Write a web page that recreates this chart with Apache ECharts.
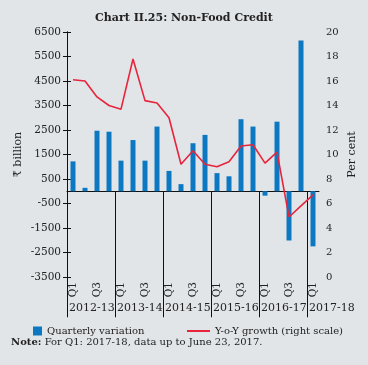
<!DOCTYPE html>
<html><head><meta charset="utf-8">
<script src="https://cdn.jsdelivr.net/npm/echarts@6/dist/echarts.min.js"></script>
<style>html,body{margin:0;padding:0;background:#E2E5E8;}#c{width:368px;height:365px;}</style>
</head><body><div id="c"></div>
<script>
// ---- data ----
const quarters = ['Q1','Q2','Q3','Q4','Q1','Q2','Q3','Q4','Q1','Q2','Q3','Q4','Q1','Q2','Q3','Q4','Q1','Q2','Q3','Q4','Q1'];
const years = ['2012-13','2013-14','2014-15','2015-16','2016-17','2017-18'];
const yearStarts = [0, 4, 8, 12, 16, 20];
const quarterlyVariation = [1220, 140, 2470, 2430, 1250, 2090, 1250, 2640, 830, 290, 1960, 2300, 740, 610, 2940, 2640, -180, 2840, -2010, 6150, -2250];
const yoyGrowth = [16.1, 16.0, 14.7, 14.0, 13.7, 17.8, 14.4, 14.2, 13.0, 9.2, 10.3, 9.2, 9.0, 9.4, 10.7, 10.8, 9.3, 10.2, 4.9, 5.8, 6.7];
const leftTicks = [-3500, -2500, -1500, -500, 500, 1500, 2500, 3500, 4500, 5500, 6500];
const rightTicks = [0, 2, 4, 6, 8, 10, 12, 14, 16, 18, 20];

const FONT = "'DejaVu Serif', serif";
const TXT = '#222';
const AX = '#111';
const yearLabel = function (v) {
  const i = yearStarts.indexOf(Math.round(Number(v)));
  return i >= 0 ? years[i] : '';
};
const chart = echarts.init(document.getElementById('c'), null, {renderer: 'canvas'});
chart.setOption({
  backgroundColor: '#E2E5E8',
  animation: false,
  textStyle: {fontFamily: FONT, color: TXT},
  title: [
    {text: 'Chart II.25: Non-Food Credit', left: 'center', top: 8,
     textStyle: {fontFamily: FONT, fontSize: 11, fontWeight: 'bold', color: TXT}},
    {text: '{b|Note:} For Q1: 2017-18, data up to June 23, 2017.', left: 11, top: 337, padding: 0,
     textStyle: {fontFamily: FONT, fontSize: 10, color: TXT, fontWeight: 'normal',
       rich: {b: {fontFamily: FONT, fontSize: 10, fontWeight: 'bold', color: TXT}}}}
  ],
  legend: [
    {data: ['Quarterly variation'], left: 33, top: 326, padding: 0, icon: 'rect', itemWidth: 9, itemHeight: 9,
     textStyle: {fontFamily: FONT, fontSize: 10, color: TXT}},
    {data: ['Y-o-Y growth (right scale)'], left: 187, top: 326, padding: 0, icon: 'rect', itemWidth: 23, itemHeight: 2,
     textStyle: {fontFamily: FONT, fontSize: 10, color: TXT}}
  ],
  grid: {left: 67, right: 49, top: 32, bottom: 88, containLabel: false, outerBoundsMode: 'none'},
  xAxis: [
    {type: 'category', data: quarters, position: 'bottom',
     axisLine: {onZero: true, onZeroAxisIndex: 1, lineStyle: {color: AX, width: 1}},
     axisTick: {length: 4, interval: 0, lineStyle: {color: AX}},
     axisLabel: {show: false}, splitLine: {show: false}},
    {type: 'value', min: 0, max: quarters.length, position: 'bottom',
     axisLine: {show: false, onZero: true, onZeroAxisIndex: 1},
     axisTick: {show: true, customValues: yearStarts, length: 126, lineStyle: {color: AX}},
     axisLabel: {show: false},
     splitLine: {show: false}},
    {type: 'category', data: quarters, position: 'bottom',
     axisLine: {show: false, onZero: false}, axisTick: {show: false},
     axisLabel: {interval: 1, rotate: 90, margin: 5, fontFamily: FONT, fontSize: 10.5, color: TXT},
     splitLine: {show: false}},
    {type: 'value', min: 0, max: quarters.length, position: 'bottom',
     axisLine: {show: false, onZero: false}, axisTick: {show: false},
     axisLabel: {show: true, customValues: yearStarts, formatter: yearLabel, hideOverlap: false,
       align: 'left', padding: [0, 0, 0, 2], margin: 26, fontFamily: FONT, fontSize: 11, color: TXT},
     splitLine: {show: false}}
  ],
  yAxis: [
    {type: 'value', position: 'right', min: 0, max: 20, interval: 2,
     name: 'Per cent', nameLocation: 'middle', nameRotate: 90, nameGap: 28, nameMoveOverlap: false,
     nameTextStyle: {fontFamily: FONT, fontSize: 11, color: TXT},
     axisLine: {show: true, lineStyle: {color: AX}},
     axisTick: {show: true, length: 4, customValues: rightTicks, lineStyle: {color: AX}},
     axisLabel: {customValues: rightTicks, formatter: v => String(v), margin: 7, fontFamily: FONT, fontSize: 10, color: TXT},
     splitLine: {show: false}},
    {type: 'value', position: 'left', min: -3500, max: 6500,
     name: '₹ billion', nameLocation: 'middle', nameRotate: 90, nameGap: 43, nameMoveOverlap: false,
     nameTextStyle: {fontFamily: FONT, fontSize: 11, color: TXT},
     axisLine: {show: true, onZero: false, lineStyle: {color: AX}},
     axisTick: {show: true, length: 4, customValues: leftTicks, lineStyle: {color: AX}},
     axisLabel: {customValues: leftTicks, formatter: v => String(v), margin: 6, fontFamily: FONT, fontSize: 10.5, color: TXT},
     splitLine: {show: false}}
  ],
  series: [
    {name: 'Quarterly variation', type: 'bar', xAxisIndex: 0, yAxisIndex: 1,
     data: quarterlyVariation, barWidth: 5, itemStyle: {color: '#0C78C2'}},
    {name: 'Y-o-Y growth (right scale)', type: 'line', xAxisIndex: 0, yAxisIndex: 0,
     data: yoyGrowth, symbol: 'none', lineStyle: {color: '#E8243C', width: 1.6},
     itemStyle: {color: '#E8243C'}}
  ]
});
</script></body></html>
